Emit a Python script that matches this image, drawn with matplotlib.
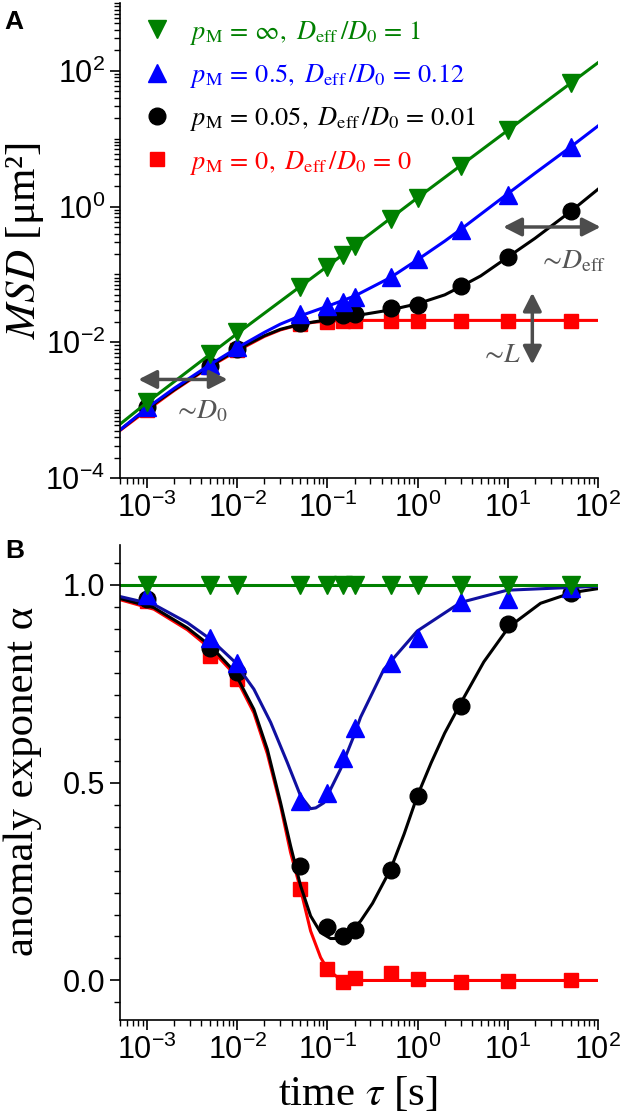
import numpy as np
import matplotlib
matplotlib.use('Agg')
import matplotlib.pyplot as plt
from matplotlib.lines import Line2D
from matplotlib.ticker import LogLocator, FuncFormatter, MultipleLocator, AutoMinorLocator, NullFormatter

plt.rcParams['font.family'] = ['Liberation Sans', 'DejaVu Sans']
plt.rcParams['mathtext.fontset'] = 'stix'

# ---- data ----
tau = [0.001, 0.005, 0.01, 0.05, 0.1, 0.15, 0.2, 0.5, 1, 3, 10, 50]

msd_inf  = [1.3e-3, 6.8e-3, 0.014, 0.066, 0.13, 0.195, 0.26, 0.66, 1.35, 3.9, 13.5, 66]
msd_05   = [1.1e-3, 4.7e-3, 8.5e-3, 0.026, 0.034, 0.039, 0.047, 0.092, 0.168, 0.45, 1.5, 7.5]
msd_005  = [1.1e-3, 4.4e-3, 8.0e-3, 0.0195, 0.024, 0.0255, 0.026, 0.032, 0.036, 0.068, 0.18, 0.85]
msd_0    = [1.0e-3, 4.3e-3, 7.6e-3, 0.0185, 0.0198, 0.0203, 0.0205, 0.0207, 0.0205, 0.0205, 0.0207, 0.0205]

alpha_inf = [1.0, 1.0, 1.0, 1.0, 1.0, 1.0, 1.0, 1.0, 1.0, 1.0, 1.0, 1.0]
alpha_05  = [0.975, 0.866, 0.803, 0.454, 0.473, 0.563, 0.639, 0.803, 0.866, 0.955, 0.963, 0.992]
alpha_005 = [0.965, 0.841, 0.780, 0.290, 0.136, 0.113, 0.128, 0.279, 0.466, 0.693, 0.900, 0.978]
alpha_0   = [0.96, 0.820, 0.761, 0.232, 0.029, -0.005, 0.005, 0.018, 0.003, -0.005, -0.001, 0.0]

# fitted curves
fit_inf_t   = [5e-4, 1e-3, 1e-2, 0.1, 1, 10, 100]
fit_inf_msd = [6.2e-4, 1.3e-3, 0.0135, 0.132, 1.35, 13.3, 132]

fit_05_t   = [5e-4, 1e-3, 2e-3, 5e-3, 0.01, 0.02, 0.03, 0.05, 0.1, 0.2, 0.5, 1, 2, 3, 5, 10, 20, 50, 100]
fit_05_msd = [5.1e-4, 1.08e-3, 2.1e-3, 4.7e-3, 8.3e-3, 0.014, 0.0185, 0.0245, 0.034, 0.048, 0.09,
              0.165, 0.31, 0.46, 0.77, 1.55, 3.1, 7.6, 15.4]

fit_005_t   = [5e-4, 1e-3, 2e-3, 5e-3, 0.01, 0.02, 0.03, 0.05, 0.1, 0.2, 0.5, 1, 2, 3, 5, 10, 20, 50, 100]
fit_005_msd = [5.1e-4, 1.05e-3, 2.0e-3, 4.5e-3, 7.8e-3, 0.0125, 0.0155, 0.0185, 0.0215, 0.0245, 0.030,
               0.037, 0.050, 0.066, 0.095, 0.18, 0.34, 0.85, 1.8]

fit_0_t   = [5e-4, 1e-3, 2e-3, 5e-3, 0.01, 0.02, 0.03, 0.05, 0.07, 0.1, 0.2, 1, 100]
fit_0_msd = [5.0e-4, 1.0e-3, 1.95e-3, 4.4e-3, 7.5e-3, 0.0122, 0.0152, 0.0183, 0.0197, 0.0205, 0.021, 0.021, 0.021]

alpha_fit_inf_logt = [-3.3, 2.0]
alpha_fit_inf      = [1.0, 1.0]
alpha_fit_05_logt = [-3.3, -2.925, -2.554, -2.296, -2.038, -1.816, -1.63, -1.446, -1.298, -1.187, -1.13,
                     -1.04, -0.855, -0.707, -0.633, -0.375, -0.004, 0.476, 0.993, 2.0]
alpha_fit_05      = [0.970, 0.950, 0.904, 0.862, 0.807, 0.736, 0.652, 0.551, 0.466, 0.434, 0.436,
                     0.449, 0.534, 0.618, 0.665, 0.786, 0.883, 0.955, 0.986, 0.996]
alpha_fit_005_logt = [-3.3, -2.925, -2.554, -2.296, -2.038, -1.816, -1.667, -1.52, -1.409, -1.298, -1.187,
                      -1.076, -0.966, -0.855, -0.78, -0.633, -0.5, -0.3, -0.15, -0.004, 0.15, 0.3,
                      0.476, 0.734, 1.011, 1.363, 1.714, 2.0]
alpha_fit_005      = [0.965, 0.942, 0.891, 0.845, 0.782, 0.685, 0.584, 0.449, 0.340, 0.239, 0.163,
                      0.121, 0.106, 0.106, 0.117, 0.150, 0.195, 0.281, 0.370, 0.466, 0.550, 0.625,
                      0.700, 0.805, 0.893, 0.953, 0.980, 0.990]
alpha_fit_0_logt = [-3.3, -2.925, -2.554, -2.296, -2.038, -1.816, -1.667, -1.52, -1.409, -1.298, -1.187,
                    -1.076, -1.0, -0.889, -0.74, 2.0]
alpha_fit_0      = [0.962, 0.938, 0.886, 0.838, 0.775, 0.676, 0.573, 0.441, 0.323, 0.23, 0.125,
                    0.058, 0.029, 0.008, 0.0, 0.0]

GREEN, BLUE, BLACK, RED = '#008000', '#0000ff', '#000000', '#ff0000'
NAVY = '#1010a0'
GREY = '#4d4d4d'

series = [
    # (color, marker, ms, msd, fit_t, fit_msd, alpha, a_logt, a_fit, a_color)
    (RED, 's', 10, msd_0, fit_0_t, fit_0_msd, alpha_0, alpha_fit_0_logt, alpha_fit_0, RED),
    (BLACK, 'o', 12, msd_005, fit_005_t, fit_005_msd, alpha_005, alpha_fit_005_logt, alpha_fit_005, BLACK),
    (BLUE, '^', 13, msd_05, fit_05_t, fit_05_msd, alpha_05, alpha_fit_05_logt, alpha_fit_05, NAVY),
    (GREEN, 'v', 13, msd_inf, fit_inf_t, fit_inf_msd, alpha_inf, alpha_fit_inf_logt, alpha_fit_inf, GREEN),
]
legend_labels = {
    GREEN: r'$p_{\mathrm{M}}\,=\,\infty,\ D_{\mathrm{eff}}\,/D_0\,=\,1$',
    BLUE:  r'$p_{\mathrm{M}}\,=\,0.5,\ D_{\mathrm{eff}}\,/D_0\,=\,0.12$',
    BLACK: r'$p_{\mathrm{M}}\,=\,0.05,\ D_{\mathrm{eff}}\,/D_0\,=\,0.01$',
    RED:   r'$p_{\mathrm{M}}\,=\,0,\ D_{\mathrm{eff}}\,/D_0\,=\,0$',
}

fig = plt.figure(figsize=(6.22, 11.17), dpi=100)
ax1 = fig.add_axes([0.1929, 0.5721, 0.7685, 0.4252])
ax2 = fig.add_axes([0.1929, 0.0868, 0.7685, 0.4252])

for col, mk, ms, msd, ft, fm, al, alt, af, acol in series:
    ax1.plot(ft, fm, color=col, lw=2.2)
    ax1.plot(tau, msd, marker=mk, ms=ms, color=col, ls='none')
    ax2.plot(np.power(10.0, alt), af, color=acol, lw=2.2)
    ax2.plot(tau, al, marker=mk, ms=ms, color=col, ls='none')

for ax in (ax1, ax2):
    ax.set_xscale('log')
    ax.set_xlim(5e-4, 100)
    ax.spines['top'].set_visible(False)
    ax.spines['right'].set_visible(False)
    for s in ('left', 'bottom'):
        ax.spines[s].set_linewidth(1.2)
    ax.xaxis.set_major_locator(LogLocator(base=10, numticks=20))
    ax.xaxis.set_minor_locator(LogLocator(base=10, subs=np.arange(2, 10), numticks=20))
    ax.xaxis.set_minor_formatter(NullFormatter())
    ax.tick_params(which='major', direction='out', length=7, width=1.2, labelsize=22)
    ax.tick_params(which='minor', direction='out', length=4, width=1.0)

# panel A
ax1.set_yscale('log')
ax1.set_ylim(1e-4, 1e3)
ax1.yaxis.set_major_locator(LogLocator(base=100, numticks=10))
ax1.yaxis.set_minor_locator(LogLocator(base=10, subs=np.arange(1, 10), numticks=20))
ax1.yaxis.set_minor_formatter(NullFormatter())
ax1.set_ylabel(r'$MSD$ [μm²]', fontsize=31, family='Liberation Serif')
ax1.yaxis.set_label_coords(-0.155, 0.5)

handles = [Line2D([], [], marker=mk, ms=ms, color=col, ls='none')
           for col, mk, ms, *_ in series[::-1]]
labels = [legend_labels[col] for col, *_ in series[::-1]]
leg = ax1.legend(handles, labels, loc='upper left', bbox_to_anchor=(0.05, 0.967),
                 frameon=False, fontsize=19, handlelength=1.0, handletextpad=0.75,
                 labelspacing=0.58, borderpad=0, borderaxespad=0)
for txt, h in zip(leg.get_texts(), handles):
    txt.set_color(h.get_color())

arrow = dict(arrowstyle='<|-|>,head_length=0.55,head_width=0.28', color=GREY, lw=2.5,
             mutation_scale=20, shrinkA=0, shrinkB=0)
ax1.annotate('', xy=(8.0e-4, 2.83e-3), xytext=(7.8e-3, 2.83e-3), arrowprops=arrow)
ax1.text(3.9e-3, 9.5e-4, r'$\sim\!D_0$', fontsize=20, color='#555555', ha='center', va='center')
ax1.annotate('', xy=(8.9, 0.50), xytext=(107, 0.50), arrowprops=arrow, annotation_clip=False)
ax1.text(52, 0.153, r'$\sim\!D_{\mathrm{eff}}$', fontsize=20, color='#555555', ha='center', va='center')
ax1.annotate('', xy=(18.7, 0.0537), xytext=(18.7, 4.7e-3), arrowprops=arrow)
ax1.text(8.3, 6.6e-3, r'$\sim\!L$', fontsize=20, color='#555555', ha='center', va='center')

# panel B
ax2.set_ylim(-0.1, 1.1)
ax2.yaxis.set_major_locator(MultipleLocator(0.5))
ax2.yaxis.set_minor_locator(AutoMinorLocator(9))
ax2.yaxis.set_major_formatter(FuncFormatter(lambda v, p: f'{v:.1f}'))
ax2.set_ylabel('anomaly exponent α', fontsize=31, family='Liberation Serif')
ax2.yaxis.set_label_coords(-0.163, 0.503)
ax2.set_xlabel(r'time $\tau$ [s]', fontsize=31, family='Liberation Serif')
ax2.xaxis.set_label_coords(0.498, -0.115)

fig.text(4 / 622, 1 - 29 / 1117, 'A', fontsize=19, fontweight='bold')
fig.text(5 / 622, 1 - 558 / 1117, 'B', fontsize=19, fontweight='bold')

fig.savefig('out.png', dpi=100)
